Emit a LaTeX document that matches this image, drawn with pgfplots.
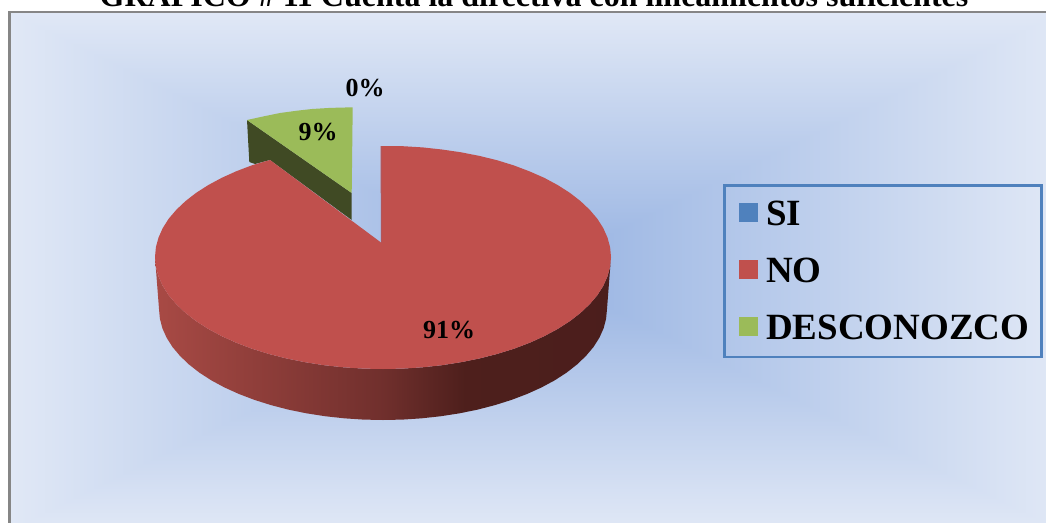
\documentclass[border=0pt]{standalone}
\usepackage{fontspec}
\setmainfont{Liberation Serif}
\usepackage{pgfplots}
\pgfplotsset{compat=1.18}
\definecolor{SiBlue}{RGB}{79,129,189}
\definecolor{NoRed}{RGB}{192,80,77}
\definecolor{DesGreen}{RGB}{155,187,89}
\definecolor{DesDark}{RGB}{64,74,36}
\definecolor{PanelGray}{RGB}{134,134,134}

% panel: rectangular gradient from the centre outwards
\pgfdeclarefunctionalshading{panelshade}{\pgfpoint{-50bp}{-50bp}}{\pgfpoint{50bp}{50bp}}{}{
  abs exch abs 2 copy lt {exch} if pop
  25 div
  dup 1 gt {pop 1} if
  dup dup
  0.078 mul 0.886 add
  exch
  0.21 mul 0.70 add
  exch
  3 2 roll
  0.29 mul 0.59 add
  3 1 roll
}
% pie wall: light on the left, dark on the right
\pgfdeclarehorizontalshading{wallshade}{100bp}{
  rgb(0bp)=(.66,.29,.27);
  rgb(25bp)=(.66,.29,.27);
  rgb(50bp)=(.44,.185,.175);
  rgb(59bp)=(.305,.122,.11);
  rgb(75bp)=(.295,.118,.11);
  rgb(100bp)=(.295,.118,.11)}

\begin{document}
\begin{tikzpicture}
\useasboundingbox (0,0) rectangle (1046pt,522pt);
\clip (0,0) rectangle (1046pt,522pt);
\begin{axis}[
    at={(0,0)}, anchor=south west,
    scale only axis,
    width=1046pt, height=522pt,
    xmin=0, xmax=1046,
    ymin=0, ymax=522,
    y dir=reverse,
    hide axis,
    legend style={
        at={(axis cs:723,184)}, anchor=north west,
        draw=SiBlue, line width=2.5pt, fill=none,
        font=\fontsize{37}{37}\selectfont\bfseries,
        inner xsep=12pt, inner ysep=16pt,
        row sep=31pt,
        nodes={inner sep=0pt, anchor=base west},
    },
    legend cell align=left,
    legend image code/.code={
        \fill[#1,draw=none] (0pt,4pt) rectangle (19pt,23pt);
        \path[draw=none,fill=none] (-3pt,5pt) -- (27pt,5pt);
    },
]
\addlegendimage{SiBlue}
\addlegendentry{SI}
\addlegendimage{NoRed}
\addlegendentry{NO}
\addlegendimage{DesGreen}
\addlegendentry{DESCONOZCO}

% panel
\addplot[forget plot, shading=panelshade, draw=PanelGray, line width=2.4pt] coordinates {
    (9.5,12) (1060,12) (1060,530) (9.5,530)
} --cycle;

% DESCONOZCO wall
\addplot[forget plot, fill=DesDark, draw=none] coordinates {
    (247,120) (351.7,193) (351.7,220) (270,160) (255,164) (249.3,162)
} --cycle;
% DESCONOZCO top
\addplot[forget plot, fill=DesGreen, draw=none] coordinates {
    (351.7,193) (352.7,107.3) (330,107.9) (312,109) (297,110.7) (280,113) (263,116.5) (247,120)
} --cycle;

% NO wall
\addplot[forget plot, shading=wallshade, draw=none] coordinates {
    (611,257) (610.1,266.8) (607.5,276.4) (603.2,286) (597.3,295.3) (589.6,304.3)
    (580.4,313) (569.8,321.2) (557.6,329) (544.2,336.2) (529.6,342.8) (513.8,348.8)
    (497,354) (479.4,358.5) (461,362.2) (442,365.2) (422.6,367.3) (402.9,368.6)
    (383,369) (363.1,368.6) (343.4,367.3) (324,365.2) (305,362.2) (286.6,358.5)
    (269,354) (252.2,348.8) (236.4,342.8) (221.8,336.2) (208.4,329) (196.2,321.2)
    (185.6,313) (176.4,304.3) (168.7,295.3) (162.8,286) (158.5,276.4) (155.9,266.8)
    (155,257)
    (159,309) (159.9,318.7) (162.4,328.3) (166.6,337.7) (172.5,347) (180,355.9)
    (189,364.5) (199.5,372.7) (211.4,380.4) (224.6,387.5) (239,394) (254.5,399.9)
    (271,405.1) (288.3,409.6) (306.4,413.3) (325,416.2) (344.1,418.3) (363.5,419.6)
    (383,420) (402.5,419.6) (421.9,418.3) (441,416.2) (459.6,413.3) (477.7,409.6)
    (495,405.1) (511.5,399.9) (527,394) (541.4,387.5) (554.6,380.4) (566.5,372.7)
    (577,364.5) (586,355.9) (593.5,347) (599.4,337.7) (603.6,328.3) (606.1,318.7)
    (607,309)
} --cycle;

% NO top
\addplot[forget plot, fill=NoRed, draw=none] coordinates {
    (381,242.5) (380.5,146)
    (402.9,146.2) (422.6,147.4) (442,149.5) (461,152.3) (479.4,155.9) (497,160.2)
    (513.8,165.4) (529.6,171.4) (544.2,177.8) (557.6,185) (569.8,192.8) (580.4,201)
    (589.6,209.7) (597.3,218.7) (603.2,228) (607.5,237.6) (610.1,247.2) (611,257)
    (610.1,266.8) (607.5,276.4) (603.2,286) (597.3,295.3) (589.6,304.3) (580.4,313)
    (569.8,321.2) (557.6,329) (544.2,336.2) (529.6,342.8) (513.8,348.8) (497,354)
    (479.4,358.5) (461,362.2) (442,365.2) (422.6,367.3) (402.9,368.6) (383,369)
    (363.1,368.6) (343.4,367.3) (324,365.2) (305,362.2) (286.6,358.5) (269,354)
    (252.2,348.8) (236.4,342.8) (221.8,336.2) (208.4,329) (196.2,321.2) (185.6,313)
    (176.4,304.3) (168.7,295.3) (162.8,286) (158.5,276.4) (155.9,266.8) (155,257)
    (155.9,247.2) (158.5,237.6) (162.8,228) (168.7,218.7) (176.4,209.7) (185.6,201)
    (196.2,192.8) (208.4,185) (221.8,177.8) (236.4,171.2) (252.2,165.2) (270,160)
} --cycle;

% SI has no area at 0%
\addplot[forget plot, fill=SiBlue, draw=none] coordinates {(381,242.5) (381,146)} --cycle;

\node[font=\fontsize{26}{26}\selectfont\bfseries] at (axis cs:365,88) {0\%};
\node[font=\fontsize{26}{26}\selectfont\bfseries] at (axis cs:318,132) {9\%};
\node[font=\fontsize{26}{26}\selectfont\bfseries] at (axis cs:449,330) {91\%};
\node[font=\fontsize{32}{32}\selectfont\bfseries, anchor=base] at (axis cs:534,6.5)
    {GRAFICO \# 11 Cuenta la directiva con lineamientos suficientes};
\end{axis}
\end{tikzpicture}
\end{document}
